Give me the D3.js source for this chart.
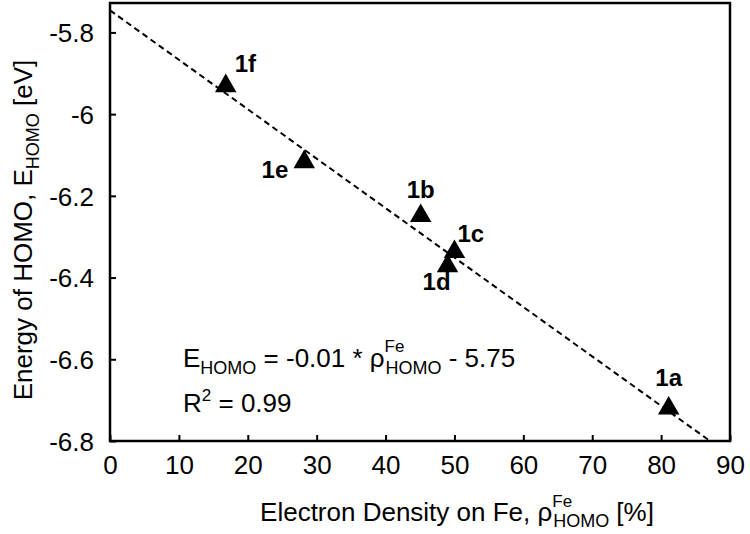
<!DOCTYPE html>
<html>
<head>
<meta charset="utf-8">
<script src="https://cdn.jsdelivr.net/npm/d3@7"></script>
<style>
  body { margin: 0; background: #fff; }
  svg text { font-family: "Liberation Sans", Arial, Helvetica, sans-serif; fill: #000; }
</style>
</head>
<body>
<div id="chart"></div>
<script>
// data
const compounds = ["1a", "1b", "1c", "1d", "1e", "1f"];
const feDensity = [81.1, 45.1, 50.0, 49.0, 28.2, 16.8];      // rho_HOMO^Fe [%]
const homoEnergy = [-6.72, -6.249, -6.337, -6.372, -6.117, -5.931]; // E_HOMO [eV]

const xTicks = [0, 10, 20, 30, 40, 50, 60, 70, 80, 90];
const yTicks = [-5.8, -6, -6.2, -6.4, -6.6, -6.8];

// fitted line as drawn
const fitSlope = -0.0121;
const fitIntercept = -5.746;

const width = 750, height = 534;
const margin = { top: 3, right: 20, bottom: 93, left: 110 };

const svg = d3.select("#chart").append("svg")
    .attr("width", width).attr("height", height);

const x = d3.scaleLinear().domain([0, 90]).range([margin.left, width - margin.right]);
const y = d3.scaleLinear().domain([-6.8, -5.728]).range([height - margin.bottom, margin.top]);

svg.append("clipPath").attr("id", "plotClip")
    .append("rect")
    .attr("x", x(0)).attr("y", y(-5.728))
    .attr("width", x(90) - x(0)).attr("height", y(-6.8) - y(-5.728));

// axes with inward ticks
const xAxis = svg.append("g")
    .attr("transform", `translate(0,${y(-6.8)})`)
    .call(d3.axisBottom(x).tickValues(xTicks).tickSize(-6).tickPadding(15).tickFormat(d3.format("d")));
const yAxis = svg.append("g")
    .attr("transform", `translate(${x(0)},0)`)
    .call(d3.axisLeft(y).tickValues(yTicks).tickSize(-6).tickPadding(16).tickFormat(d => String(d)));

[xAxis, yAxis].forEach(g => {
    g.select(".domain").remove();
    g.selectAll("line").attr("stroke", "#000").attr("stroke-width", 2);
    g.selectAll("text").style("font-size", "26px");
});
xAxis.selectAll("text").attr("dy", "0.71em");
yAxis.selectAll("text").attr("dy", "0.36em");

// frame
svg.append("rect")
    .attr("x", x(0)).attr("y", y(-5.728))
    .attr("width", x(90) - x(0)).attr("height", y(-6.8) - y(-5.728))
    .attr("fill", "none").attr("stroke", "#000").attr("stroke-width", 2.5);

// fit line
const lineX = [0, 90];
svg.append("path")
    .attr("clip-path", "url(#plotClip)")
    .attr("d", d3.line().x(d => x(d)).y(d => y(fitSlope * d + fitIntercept))(lineX))
    .attr("fill", "none").attr("stroke", "#000")
    .attr("stroke-width", 2).attr("stroke-dasharray", "6,4");

// points
const points = compounds.map((c, i) => ({ name: c, fe: feDensity[i], e: homoEnergy[i] }));

svg.selectAll("path.pt")
    .data(points)
    .join("path")
    .attr("class", "pt")
    .attr("transform", d => `translate(${x(d.fe)},${y(d.e)})`)
    .attr("d", d3.symbol().type(d3.symbolTriangle).size(200))
    .attr("fill", "#000");

// label placement relative to each marker
const labelPos = {
    "1a": { dx: 0, dy: -22, anchor: "middle" },
    "1b": { dx: 0, dy: -18, anchor: "middle" },
    "1c": { dx: 3, dy: -10, anchor: "start" },
    "1d": { dx: -11, dy: 24, anchor: "middle" },
    "1e": { dx: -16, dy: 16, anchor: "end" },
    "1f": { dx: 9, dy: -14, anchor: "start" }
};

svg.selectAll("text.lbl")
    .data(points)
    .join("text")
    .attr("class", "lbl")
    .attr("x", d => x(d.fe) + labelPos[d.name].dx)
    .attr("y", d => y(d.e) + labelPos[d.name].dy)
    .attr("text-anchor", d => labelPos[d.name].anchor)
    .style("font-size", "24px").style("font-weight", "bold")
    .text(d => d.name);

// equation
const eq = svg.append("text").attr("x", 183).attr("y", 367).style("font-size", "26px");
eq.append("tspan").text("E");
eq.append("tspan").attr("dy", 7).style("font-size", "18px").text("HOMO");
eq.append("tspan").attr("dy", -7).text(" = -0.01 * \u03c1");
eq.append("tspan").attr("dy", -15).style("font-size", "17px").text("Fe");
eq.append("tspan").attr("dx", -19).attr("dy", 22).style("font-size", "18px").text("HOMO");
eq.append("tspan").attr("dy", -7).text(" - 5.75");

const r2 = svg.append("text").attr("x", 183).attr("y", 412).style("font-size", "26px");
r2.append("tspan").text("R");
r2.append("tspan").attr("dy", -11).style("font-size", "17px").text("2");
r2.append("tspan").attr("dy", 11).text(" = 0.99");

// x axis title
const xt = svg.append("text").attr("x", 457).attr("y", 521)
    .attr("text-anchor", "middle").style("font-size", "26px");
xt.append("tspan").text("Electron Density on Fe, \u03c1");
xt.append("tspan").attr("dy", -14).style("font-size", "17px").text("Fe");
xt.append("tspan").attr("dx", -19).attr("dy", 20).style("font-size", "18px").text("HOMO");
xt.append("tspan").attr("dy", -6).text(" [%]");

// y axis title
const yt = svg.append("text")
    .attr("transform", `translate(32,230) rotate(-90)`)
    .attr("text-anchor", "middle").style("font-size", "26px");
yt.append("tspan").text("Energy of HOMO, E");
yt.append("tspan").attr("dy", 7).style("font-size", "18px").text("HOMO");
yt.append("tspan").attr("dy", -7).text(" [eV]");
</script>
</body>
</html>
